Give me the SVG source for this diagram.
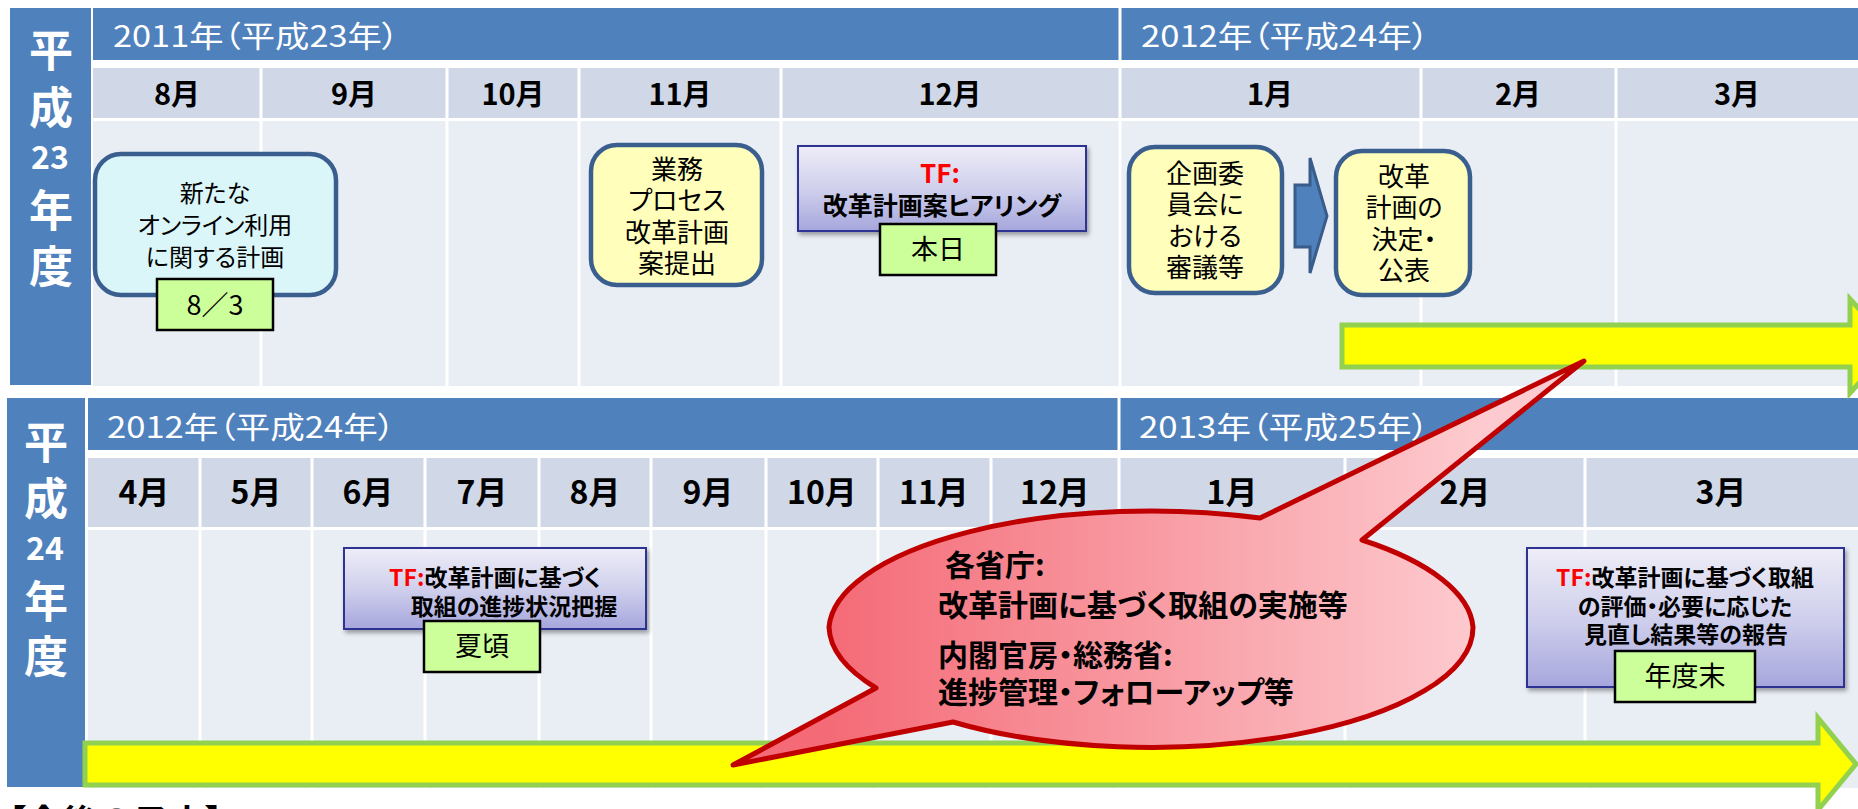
<svg xmlns="http://www.w3.org/2000/svg" width="1858" height="809" viewBox="0 0 1858 809">
<defs>
<style>
text{font-family:"Noto Sans CJK JP","Noto Sans",sans-serif;font-feature-settings:"palt";}
.hdr{fill:#fff;font-size:30px;}
.vl{fill:#fff;font-size:44px;font-weight:bold;text-anchor:middle;dominant-baseline:central;}
.vn{fill:#fff;font-size:32px;font-weight:bold;text-anchor:middle;dominant-baseline:central;}
.mt{font-size:29px;font-weight:bold;text-anchor:middle;fill:#000;}
.mb{font-size:32px;font-weight:bold;text-anchor:middle;fill:#000;}
.band{fill:#4f81bd;}
.mrow{fill:#d0d8e8;}
.body{fill:#e9edf4;}
.div{stroke:#fff;stroke-width:3;}
.rb{stroke:#3a5f8e;stroke-width:4.5;}
.yel{fill:#ffffbb;}
.cyan{fill:#dbf6f9;}
.bt{font-size:26px;text-anchor:middle;fill:#000;}
.grn{fill:#ccff99;stroke:#000;stroke-width:2.5;}
.gt{font-size:27px;text-anchor:middle;fill:#000;}
.tf{fill:url(#tfg);stroke:#2e3192;stroke-width:2;filter:url(#sh);}
.tt{font-size:23px;font-weight:bold;text-anchor:middle;fill:#000;}
.red{fill:#ff0000;}
.bar{fill:#ffff00;stroke:#92d050;stroke-width:5;}
.co{font-size:30px;font-weight:bold;fill:#000;}
</style>
<linearGradient id="tfg" x1="0" y1="0" x2="0" y2="1"><stop offset="0" stop-color="#eeedf7"/><stop offset="0.5" stop-color="#d0d0ed"/><stop offset="1" stop-color="#a6a6dd"/></linearGradient>
<linearGradient id="cog" gradientUnits="userSpaceOnUse" x1="830" y1="0" x2="1480" y2="0"><stop offset="0" stop-color="#f46b77"/><stop offset="1" stop-color="#fdcbcf"/></linearGradient>
<filter id="sh" x="-10%" y="-10%" width="130%" height="140%"><feDropShadow dx="2" dy="3" stdDeviation="2" flood-color="#000" flood-opacity="0.35"/></filter>
</defs>
<rect x="0" y="0" width="1858" height="809" fill="#fff"/>

<g id="section-h23">
<rect class="band" x="10" y="8" width="81" height="377"/>
<rect class="band" x="93" y="8" width="1765" height="52"/>
<rect class="mrow" x="93" y="68" width="1765" height="50"/>
<rect class="body" x="93" y="121" width="1765" height="265"/>
<g class="div">
<line x1="261" y1="66" x2="261" y2="386"/>
<line x1="447" y1="66" x2="447" y2="386"/>
<line x1="579" y1="66" x2="579" y2="386"/>
<line x1="781" y1="66" x2="781" y2="386"/>
<line x1="1120" y1="8" x2="1120" y2="386"/>
<line x1="1421" y1="66" x2="1421" y2="386"/>
<line x1="1616" y1="66" x2="1616" y2="386"/>
</g>
<text class="vl" x="51" y="48">平</text>
<text class="vl" x="51" y="105">成</text>
<text class="vn" x="50" y="155">23</text>
<text class="vl" x="51" y="208">年</text>
<text class="vl" x="51" y="264">度</text>
<text class="hdr" x="113" y="47" textLength="286" lengthAdjust="spacingAndGlyphs">2011年（平成23年）</text>
<text class="hdr" x="1141" y="47" textLength="288" lengthAdjust="spacingAndGlyphs">2012年（平成24年）</text>
<text class="mt" x="177" y="105">8月</text>
<text class="mt" x="354" y="105">9月</text>
<text class="mt" x="513" y="105">10月</text>
<text class="mt" x="680" y="105">11月</text>
<text class="mt" x="950" y="105">12月</text>
<text class="mt" x="1270" y="105">1月</text>
<text class="mt" x="1518" y="105">2月</text>
<text class="mt" x="1737" y="105">3月</text>
</g>

<g id="section-h24">
<rect class="band" x="7" y="398" width="78" height="389"/>
<rect class="band" x="88" y="398" width="1770" height="52"/>
<rect class="mrow" x="88" y="458" width="1770" height="69"/>
<rect class="body" x="88" y="530" width="1770" height="258"/>
<g class="div">
<line x1="200" y1="456" x2="200" y2="788"/>
<line x1="312" y1="456" x2="312" y2="788"/>
<line x1="425" y1="456" x2="425" y2="788"/>
<line x1="539" y1="456" x2="539" y2="788"/>
<line x1="651" y1="456" x2="651" y2="788"/>
<line x1="766" y1="456" x2="766" y2="788"/>
<line x1="878" y1="456" x2="878" y2="788"/>
<line x1="991" y1="456" x2="991" y2="788"/>
<line x1="1119" y1="398" x2="1119" y2="788"/>
<line x1="1345" y1="456" x2="1345" y2="788"/>
<line x1="1585" y1="456" x2="1585" y2="788"/>
</g>
<text class="vl" x="46" y="440">平</text>
<text class="vl" x="46" y="496">成</text>
<text class="vn" x="45" y="546">24</text>
<text class="vl" x="46" y="599">年</text>
<text class="vl" x="46" y="654">度</text>
<text class="hdr" x="107" y="438" textLength="288" lengthAdjust="spacingAndGlyphs">2012年（平成24年）</text>
<text class="hdr" x="1139" y="438" textLength="290" lengthAdjust="spacingAndGlyphs">2013年（平成25年）</text>
<text class="mb" x="144" y="504">4月</text>
<text class="mb" x="256" y="504">5月</text>
<text class="mb" x="368" y="504">6月</text>
<text class="mb" x="482" y="504">7月</text>
<text class="mb" x="595" y="504">8月</text>
<text class="mb" x="708" y="504">9月</text>
<text class="mb" x="822" y="504">10月</text>
<text class="mb" x="934" y="504">11月</text>
<text class="mb" x="1055" y="504">12月</text>
<text class="mb" x="1232" y="504">1月</text>
<text class="mb" x="1465" y="504">2月</text>
<text class="mb" x="1721" y="504">3月</text>
</g>

<g id="bar-h23">
<path class="bar" d="M1342,325 H1850 V299 L1893,346 L1850,393 V367 H1342 Z"/>
</g>
<g id="bar-h24">
<path class="bar" d="M85,743 H1818 V718 L1856,764 L1818,810 V785 H85 Z"/>
</g>

<g id="node-online-plan">
<rect class="cyan rb" x="95" y="154" width="241" height="141" rx="26"/>
<text class="bt" x="215" y="202" style="font-size:24px">新たな</text>
<text class="bt" x="215" y="234" style="font-size:24px">オンライン利用</text>
<text class="bt" x="215" y="266" style="font-size:24px">に関する計画</text>
<rect class="grn" x="157" y="279" width="116" height="51"/>
<text class="gt" x="215" y="315">8／3</text>
</g>

<g id="node-submit">
<rect class="yel rb" x="591" y="145" width="171" height="140" rx="26"/>
<text class="bt" x="677" y="179">業務</text>
<text class="bt" x="677" y="210">プロセス</text>
<text class="bt" x="677" y="242">改革計画</text>
<text class="bt" x="677" y="273">案提出</text>
</g>

<g id="node-tf-hearing">
<rect class="tf" x="798" y="146" width="288" height="85"/>
<text class="tt red" x="940" y="183" style="font-size:26px">TF:</text>
<text class="tt" x="942" y="215" style="font-size:25px">改革計画案ヒアリング</text>
<rect class="grn" x="880" y="224" width="116" height="51"/>
<text class="gt" x="938" y="259">本日</text>
</g>

<g id="node-committee">
<rect class="yel rb" x="1129" y="147" width="153" height="146" rx="26"/>
<text class="bt" x="1205" y="183">企画委</text>
<text class="bt" x="1205" y="214">員会に</text>
<text class="bt" x="1205" y="246">おける</text>
<text class="bt" x="1205" y="277">審議等</text>
</g>

<g id="node-decision">
<rect class="yel rb" x="1336" y="151" width="134" height="144" rx="26"/>
<text class="bt" x="1404" y="186">改革</text>
<text class="bt" x="1404" y="217">計画の</text>
<text class="bt" x="1404" y="249">決定・</text>
<text class="bt" x="1404" y="280">公表</text>
</g>

<g id="connectors">
<path d="M1295,185 L1310,185 L1310,158 L1327,216 L1310,273 L1310,247 L1295,247 Z" fill="#4f81bd" stroke="#385d8a" stroke-width="3" stroke-linejoin="miter"/>
</g>

<g id="node-tf-progress">
<rect class="tf" x="344" y="548" width="302" height="81"/>
<text class="tt" x="495" y="586"><tspan class="red">TF:</tspan>改革計画に基づく</text>
<text class="tt" x="514" y="615">取組の進捗状況把握</text>
<rect class="grn" x="424" y="621" width="116" height="51"/>
<text class="gt" x="482" y="656">夏頃</text>
</g>

<g id="node-tf-report">
<rect class="tf" x="1527" y="548" width="317" height="139"/>
<text class="tt" x="1685" y="586"><tspan class="red">TF:</tspan>改革計画に基づく取組</text>
<text class="tt" x="1685" y="615">の評価・必要に応じた</text>
<text class="tt" x="1686" y="643">見直し結果等の報告</text>
<rect class="grn" x="1615" y="651" width="140" height="51"/>
<text class="gt" x="1685" y="686">年度末</text>
</g>

<g id="node-callout">
<path d="M1260,518 L1584,361 L1362,540 A322,120 0 0 1 1473,627 A322,120 0 0 1 953,722 L733,765 L876,688 A322,120 0 0 1 829,627 A322,120 0 0 1 1260,518 Z" fill="url(#cog)" stroke="#c00000" stroke-width="5" stroke-linejoin="round"/>
<text class="co" x="945" y="576">各省庁:</text>
<text class="co" x="938" y="616">改革計画に基づく取組の実施等</text>
<text class="co" x="938" y="666">内閣官房・総務省:</text>
<text class="co" x="938" y="703">進捗管理・フォローアップ等</text>
</g>

<g id="caption">
<text x="8" y="836" style="font-size:36px;font-weight:bold" fill="#000" textLength="215" lengthAdjust="spacingAndGlyphs">【今後の予定】</text>
</g>
</svg>
